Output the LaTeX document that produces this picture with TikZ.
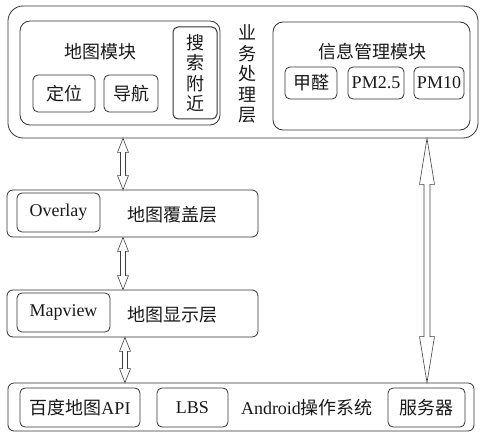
\documentclass[tikz,border=0pt]{standalone}
\usepackage{fontspec}
\setmainfont{Liberation Serif}
\newfontfamily\cjk{Noto Sans CJK SC}
\usetikzlibrary{calc}
\newcommand\vdarrow[5]{%
  \draw[arr] let \p1=(#1), \p2=(#2) in
    (\x1,\y1) -- (\x1+#4,\y1-#3) -- (\x1+#5,\y1-#3) -- (\x1+#5,\y2+#3)
    -- (\x1+#4,\y2+#3) -- (\x1,\y2) -- (\x1-#4,\y2+#3) -- (\x1-#5,\y2+#3)
    -- (\x1-#5,\y1-#3) -- (\x1-#4,\y1-#3) -- cycle;}
\begin{document}
\begin{tikzpicture}[x=1pt,y=-1pt,
  every node/.style={font=\fontsize{18}{20.5}\selectfont, text=black!90},
  vtext/.style={align=center, font=\fontsize{18}{20.5}\selectfont\cjk},
  box/.style={draw=black!80, line width=0.8pt, rounded corners=5pt, inner sep=0pt},
  layer/.style={box, rounded corners=6pt},
  module/.style={box, rounded corners=10pt},
  lbl/.style={inner sep=0pt},
  arr/.style={draw=black!75, line width=0.6pt, fill=white}]
\useasboundingbox (0,0) rectangle (480,433);
% business layer
\node[box, rounded corners=15pt, minimum width=470pt, minimum height=132pt] (biz) at (243,72) {};
\node[module, minimum width=200pt, minimum height=104pt] (mapmod) at (120,73) {};
\node[lbl] (maptxt) at (100,52) {\cjk 地图模块};
\node[box, minimum width=62pt, minimum height=37pt] (dw) at (64,93.5) {\cjk 定位};
\node[box, minimum width=54pt, minimum height=37pt] (dh) at (131,93.5) {\cjk 导航};
\node[box, vtext, line width=1pt, minimum width=44pt, minimum height=92pt] (ss) at (195,73) {搜\\索\\附\\近};
\node[lbl, vtext] (biztxt) at (247,74) {业\\务\\处\\理\\层};
\node[module, minimum width=197pt, minimum height=108pt] (info) at (371.5,76) {};
\node[lbl] (infotxt) at (372,52) {\cjk 信息管理模块};
\node[box, minimum width=52pt, minimum height=32pt] (jq) at (311,83) {\cjk 甲醛};
\node[box, minimum width=56pt, minimum height=32pt] (pm25) at (376,83) {PM2.5};
\node[box, minimum width=50pt, minimum height=32pt] (pm10) at (439,83) {PM10};
% overlay layer
\node[layer, minimum width=251pt, minimum height=47pt] (ovl) at (132.5,213.5) {};
\node[box, minimum width=83pt, minimum height=39pt] (ovb) at (58.5,212.5) {Overlay};
\node[lbl] (ovt) at (172.5,215) {\cjk 地图覆盖层};
% mapview layer
\node[layer, minimum width=251pt, minimum height=47pt] (mv) at (132.5,313.5) {};
\node[box, minimum width=93pt, minimum height=39pt] (mvb) at (63.5,312.5) {Mapview};
\node[lbl] (mvt) at (172.5,315) {\cjk 地图显示层};
% bottom layer
\node[layer, minimum width=466pt, minimum height=48pt] (bot) at (241,407) {};
\node[box, minimum width=120pt, minimum height=39pt] (bd) at (80,407.5) {{\cjk 百度地图}API};
\node[box, minimum width=71pt, minimum height=39pt] (lbs) at (192.5,407.5) {LBS};
\node[lbl] (andt) at (307,408) {Android{\cjk 操作系统}};
\node[box, minimum width=77pt, minimum height=39pt] (fwq) at (426.5,407.5) {\cjk 服务器};
% arrows
\coordinate (ax1) at (123,0);
\coordinate (ax3) at (125,0);
\coordinate (ax4) at (427,0);
\vdarrow{biz.south -| ax1}{ovl.north -| ax1}{14pt}{5.5pt}{2.5pt}
\vdarrow{ovl.south -| ax1}{mv.north -| ax1}{14pt}{5.5pt}{2.5pt}
\vdarrow{mv.south -| ax3}{bot.north -| ax3}{14pt}{5.5pt}{2.5pt}
\vdarrow{biz.south -| ax4}{bot.north -| ax4}{46pt}{7.5pt}{3pt}
\end{tikzpicture}
\end{document}
